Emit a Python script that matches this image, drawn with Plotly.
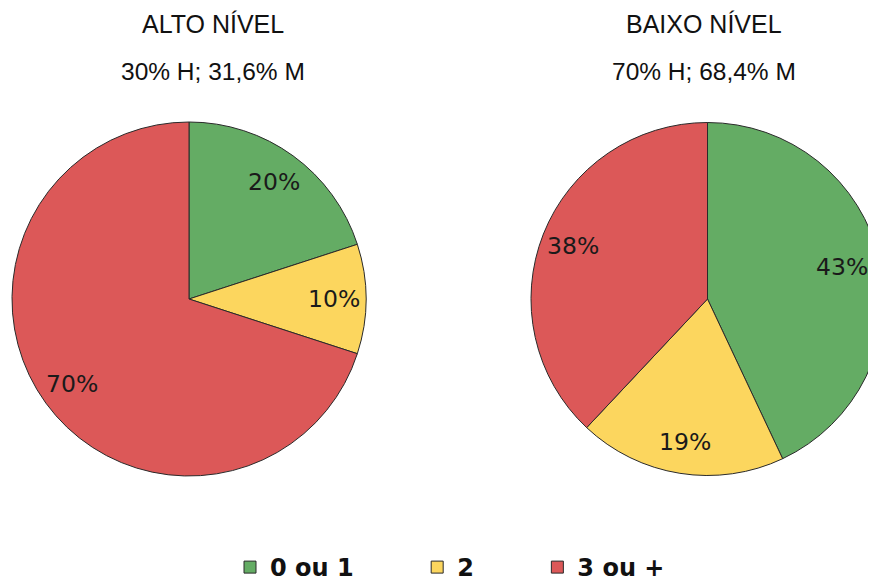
import math
import plotly.graph_objects as go

W, H = 876, 582
OFFX = 8  # page body margin offsets the figure
OFFY = 8
VISIBLE_RIGHT = 870  # keep slice labels inside the visible page

categories = ["0 ou 1", "2", "3 ou +"]
alto_values = [20, 10, 70]
baixo_values = [43, 19, 38]
colors = ["#64ac64", "#fcd65e", "#dc5858"]

titles = ["ALTO NÍVEL", "BAIXO NÍVEL"]
subtitles = ["30% H; 31,6% M", "70% H; 68,4% M"]

NB = "\u00a0"
legend_labels = [categories[0] + NB * 7, categories[1] + NB * 7, categories[2]]


def px_x(x):
    return (x - OFFX) / W


def px_y(y):
    return 1 - (y - OFFY) / H


R = 177
CY = 299
centers_x = [189, 708]
LABEL_HALF_W = 28

fig = go.Figure()

common = dict(
    labels=legend_labels,
    sort=False,
    direction="clockwise",
    rotation=0,
    textinfo="none",
    marker=dict(colors=colors, line=dict(color="#2a2a2a", width=1)),
    hoverinfo="label+percent",
)

for cx, vals, name in zip(centers_x, [alto_values, baixo_values], titles):
    x0 = max(0.0, px_x(cx - R))
    x1 = min(1.0, px_x(cx + R))
    fig.add_trace(go.Pie(values=vals, name=name,
                         domain=dict(x=[x0, x1], y=[px_y(CY + R), px_y(CY - R)]),
                         **common))
    w_px = (x1 - x0) * W
    rr = min(w_px, 2 * R) / 2
    ccx = (x0 + x1) / 2 * W + OFFX
    total = sum(vals)
    cum = 0
    for v in vals:
        theta = math.radians((cum + v / 2) / total * 360)
        cum += v
        lx = ccx + 0.82 * rr * math.sin(theta)
        lx = min(lx, VISIBLE_RIGHT - LABEL_HALF_W)
        ly = CY - 0.82 * rr * math.cos(theta)
        fig.add_annotation(text=f"{round(v / total * 100)}%", x=px_x(lx), y=px_y(ly),
                           xref="paper", yref="paper", showarrow=False,
                           xanchor="center", yanchor="middle",
                           font=dict(family="DejaVu Sans", size=23.5, color="#1a1a1a"))

title_x = [213, 704]
for tx, t, s in zip(title_x, titles, subtitles):
    fig.add_annotation(text=t, x=px_x(tx), y=px_y(24), xref="paper", yref="paper",
                       showarrow=False, xanchor="center", yanchor="middle",
                       font=dict(family="Liberation Sans", size=25, color="#111111"))
    fig.add_annotation(text=s, x=px_x(tx), y=px_y(71), xref="paper", yref="paper",
                       showarrow=False, xanchor="center", yanchor="middle",
                       font=dict(family="Liberation Sans", size=24.5, color="#111111"))

fig.update_layout(
    width=W, height=H,
    margin=dict(l=0, r=0, t=0, b=0),
    paper_bgcolor="white",
    plot_bgcolor="white",
    showlegend=True,
    legend=dict(orientation="h", x=px_x(230), xanchor="left", y=0, yanchor="bottom",
                font=dict(family="DejaVu Sans", size=24, color="#111111", weight="bold"),
                bgcolor="rgba(0,0,0,0)"),
)

fig.write_html("out.html")
